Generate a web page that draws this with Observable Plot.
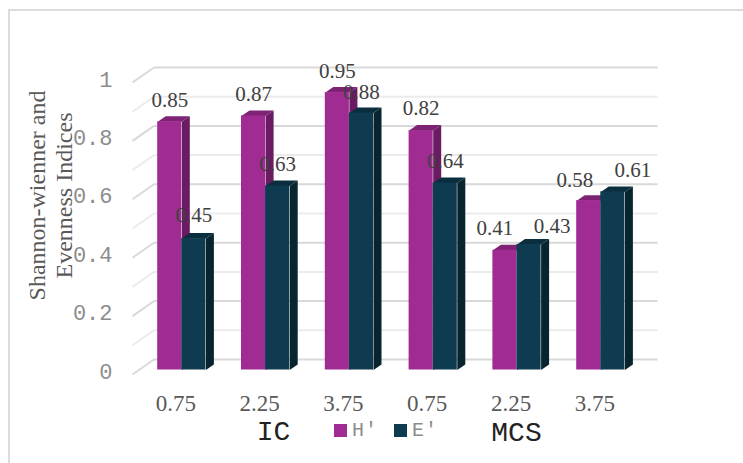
<!DOCTYPE html>
<html>
<head>
<meta charset="utf-8">
<script src="https://cdn.jsdelivr.net/npm/d3@7"></script>
<script src="https://cdn.jsdelivr.net/npm/@observablehq/plot@0.6"></script>
<style>
html,body{margin:0;padding:0;background:#fff}
#wrap{position:relative;width:743px;height:463px;overflow:hidden}
#frame{position:absolute;left:8px;top:9px;right:-5px;bottom:-5px;border-top:2px solid #dcdcdc;border-left:2px solid #dcdcdc}
#legend{position:absolute;left:334px;top:420px;display:flex;align-items:center;font:20px "Liberation Mono",monospace;color:#8c8c8c;height:20px;letter-spacing:1px}
#legend i{display:inline-block;width:13px;height:13px;margin-right:5px}
#chart{position:absolute;left:0;top:0}
</style>
</head>
<body>
<div id="wrap"><div id="chart"></div><div id="frame"></div>
<div id="legend"><i style="background:#A02B93"></i><span style="width:42px">H'</span><i style="background:#0F3B50"></i><span>E'</span></div></div>
<script>
// --- data ---
const categories = ["0.75","2.25","3.75","0.75","2.25","3.75"];
const hValues = [0.85,0.87,0.95,0.82,0.41,0.58];
const eValues = [0.45,0.63,0.88,0.64,0.43,0.61];
const yTicks = [0,0.2,0.4,0.6,0.8,1];
const gridMinor = [0.1,0.3,0.5,0.7,0.9];

// --- layout ---
const mLeft = 115, mTop = 77.5;
const pxPerSlot = 83.8, pxPerUnit = 292;
const barW = 24.1 / pxPerSlot, depX = 8 / pxPerSlot, depY = 5.5 / pxPerUnit;
const wallL = 0.168, wallR = 6.177, wallY = 10.5 / pxPerUnit;
const floorL = -0.088, floorY = -4.5 / pxPerUnit;
const hNudge = [0,0,0,0,-10,-14], eNudge = [0,0,0,0,23,20];
const hLift = [-22,-22,-21,-22,-22,-20], eLift = [-23,-22,-21,-22,-18,-22];

const slots = categories.map((_, i) => i + 0.5);
const bars = (vals, off) => vals.map((v, i) => ({x1: slots[i] + off, x2: slots[i] + off + barW, v, i}));
const hBars = bars(hValues, -barW), eBars = bars(eValues, 0);

const sideFace = bs => bs.flatMap(b => [
  {g:b.i,x:b.x2,y:0},{g:b.i,x:b.x2+depX,y:depY},{g:b.i,x:b.x2+depX,y:b.v+depY},{g:b.i,x:b.x2,y:b.v}]);
const topFace = bs => bs.flatMap(b => [
  {g:b.i,x:b.x1,y:b.v},{g:b.i,x:b.x2,y:b.v},{g:b.i,x:b.x2+depX,y:b.v+depY},{g:b.i,x:b.x1+depX,y:b.v+depY}]);
const poly = (rows, fill) => Plot.line(rows, {x:"x", y:"y", z:"g", fill, stroke:null, curve:"linear-closed"});

const gridMark = (vals, color) => [
  Plot.link(vals, {x1:wallL, x2:wallR, y1:v=>v+wallY, y2:v=>v+wallY, stroke:color, strokeWidth:2}),
  Plot.link(vals, {x1:floorL, x2:wallL, y1:v=>v+floorY, y2:v=>v+wallY, stroke:color, strokeWidth:2})
];
const serif = "Liberation Serif", mono = "Liberation Mono";
const pix = (t, px, py, o) => Plot.text([t], {frameAnchor:"top-left", dx:px-mLeft, dy:py-mTop, text:d=>d, ...o});

const chart = Plot.plot({
  width:743, height:463,
  marginLeft:mLeft, marginRight:0, marginTop:mTop, marginBottom:93.5,
  x:{domain:[0,6], range:[139.4,642.2], axis:null},
  y:{domain:[0,1], axis:null},
  style:{background:"transparent"},
  marks:[
    ...gridMark(gridMinor,"#ebebeb"),
    ...gridMark(yTicks,"#d9d9d9"),
    Plot.axisY({ticks:yTicks, tickFormat:d=>String(d), tickSize:0, tickPadding:3, label:null,
      fontSize:22, fontFamily:mono, fill:"#8c8c8c", dy:1.5}),
    Plot.axisX({ticks:slots, tickFormat:s=>categories[slots.indexOf(s)], tickSize:0, tickPadding:25, label:null,
      fontSize:23, fontFamily:serif, fill:"#595959", dx:-6}),
    poly(sideFace(hBars),"#6A1B61"), poly(topFace(hBars),"#7E2274"),
    Plot.rectY(hBars,{x1:"x1",x2:"x2",y1:0,y2:"v",fill:"#A02B93"}),
    poly(sideFace(eBars),"#08242F"), poly(topFace(eBars),"#0B2E3F"),
    Plot.rectY(eBars,{x1:"x1",x2:"x2",y1:0,y2:"v",fill:"#0F3B50"}),
    ...hBars.map((b,i)=>Plot.text([b],{x:d=>d.x1+barW/2,y:"v",text:d=>d.v.toFixed(2),dy:hLift[i],dx:hNudge[i],
      fontSize:21,fontFamily:serif,fill:"#404040"})),
    ...eBars.map((b,i)=>Plot.text([b],{x:d=>d.x1+barW/2,y:"v",text:d=>d.v.toFixed(2),dy:eLift[i],dx:eNudge[i],
      fontSize:21,fontFamily:serif,fill:"#404040"})),
    pix("Shannon-wienner and",27,195,{rotate:-90,fontSize:24,fontFamily:serif,fill:"#595959",textAnchor:"middle"}),
    pix("Evenness Indices",54,195,{rotate:-90,fontSize:24,fontFamily:serif,fill:"#595959",textAnchor:"middle"}),
    pix("IC",273,420,{fontSize:28,fontFamily:mono,fill:"#222",textAnchor:"middle"}),
    pix("MCS",516,421,{fontSize:28,fontFamily:mono,fill:"#222",textAnchor:"middle"})
  ]
});
document.getElementById("chart").append(chart);
</script>
</body>
</html>
